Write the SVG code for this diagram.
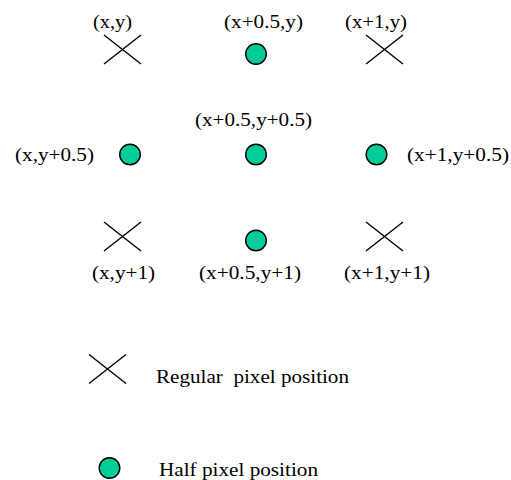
<svg xmlns="http://www.w3.org/2000/svg" width="511" height="480" viewBox="0 0 511 480">
<style>
.t{font-family:"Liberation Serif","Times New Roman",serif;font-size:18px;fill:#000}
.x{stroke:#000;stroke-width:1.4;fill:none}
.c{fill:#00CC99;stroke:#000;stroke-width:1.4}
</style>
<defs>
<path id="cross" class="x" d="M-18.5,-14.5 L18.5,14.5 M-18.5,14.5 L18.5,-14.5"/>
</defs>
<rect width="511" height="480" fill="#fff"/>
<g id="p00"><use href="#cross" x="122.5" y="49.5"/><text class="t" x="93" y="28" textLength="39" lengthAdjust="spacingAndGlyphs">(x,y)</text></g>
<g id="p05_0"><circle class="c" cx="256" cy="54" r="10.3"/><text class="t" x="224" y="28" textLength="79" lengthAdjust="spacingAndGlyphs">(x+0.5,y)</text></g>
<g id="p10"><use href="#cross" x="384.5" y="49.5"/><text class="t" x="345" y="28" textLength="62" lengthAdjust="spacingAndGlyphs">(x+1,y)</text></g>
<g id="p0_05"><circle class="c" cx="130" cy="154.5" r="10.3"/><text class="t" x="15" y="161" textLength="79" lengthAdjust="spacingAndGlyphs">(x,y+0.5)</text></g>
<g id="p05_05"><circle class="c" cx="256" cy="154.5" r="10.3"/><text class="t" x="195" y="126" textLength="117" lengthAdjust="spacingAndGlyphs">(x+0.5,y+0.5)</text></g>
<g id="p1_05"><circle class="c" cx="376.5" cy="154.5" r="10.3"/><text class="t" x="407" y="161" textLength="102" lengthAdjust="spacingAndGlyphs">(x+1,y+0.5)</text></g>
<g id="p01"><use href="#cross" x="122.5" y="236.5"/><text class="t" x="92" y="279" textLength="63" lengthAdjust="spacingAndGlyphs">(x,y+1)</text></g>
<g id="p05_1"><circle class="c" cx="256" cy="240.5" r="10.3"/><text class="t" x="199" y="279" textLength="102" lengthAdjust="spacingAndGlyphs">(x+0.5,y+1)</text></g>
<g id="p11"><use href="#cross" x="384.5" y="236.5"/><text class="t" x="344" y="279" textLength="86" lengthAdjust="spacingAndGlyphs">(x+1,y+1)</text></g>
<g id="legend_regular"><use href="#cross" x="107.5" y="369"/><text class="t" x="156" y="383" textLength="193" lengthAdjust="spacingAndGlyphs" xml:space="preserve">Regular  pixel position</text></g>
<g id="legend_half"><circle class="c" cx="109.5" cy="468" r="10.3"/><text class="t" x="159" y="476" textLength="159" lengthAdjust="spacingAndGlyphs">Half pixel position</text></g>
<g id="connectors"></g>
</svg>
